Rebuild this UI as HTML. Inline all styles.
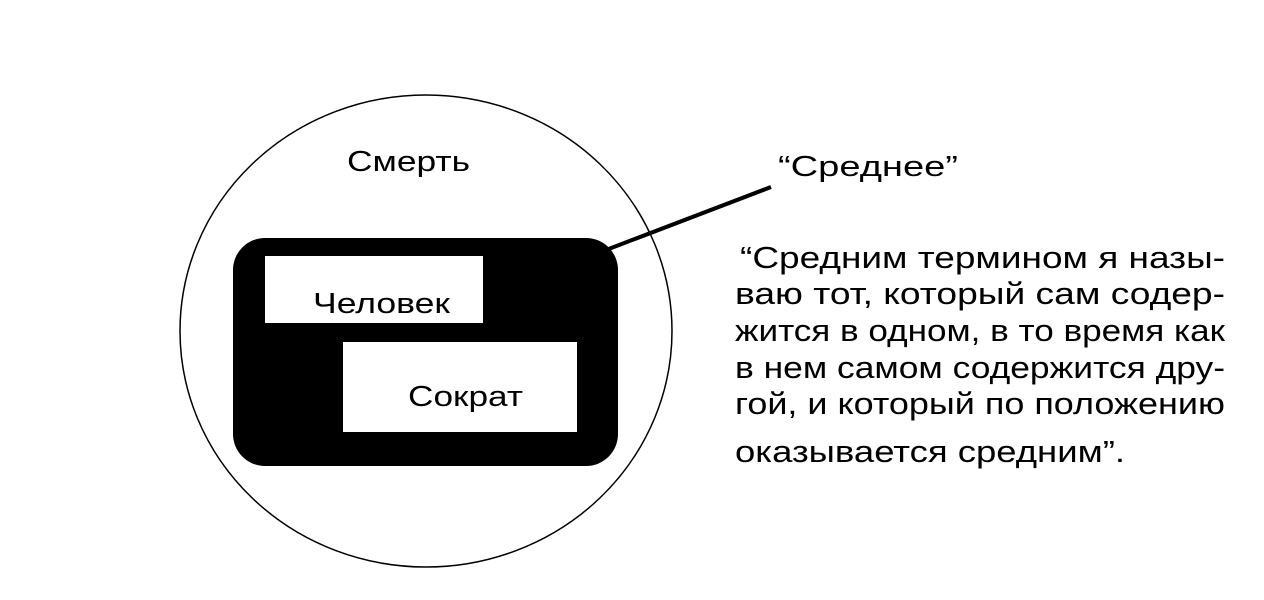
<!DOCTYPE html>
<html><head><meta charset="utf-8"><style>
html,body{margin:0;padding:0;background:#fff;}
svg{display:block;}
text{font-family:"Liberation Sans",Arial,sans-serif;fill:#000;}
</style></head><body>
<svg width="1264" height="600" viewBox="0 0 1264 600" xmlns="http://www.w3.org/2000/svg">
<ellipse cx="426" cy="331" rx="246" ry="236" fill="none" stroke="#000" stroke-width="1.5"/>
<line x1="606" y1="250" x2="771" y2="187" stroke="#000" stroke-width="4"/>
<rect x="233" y="238" width="385" height="228" rx="32" ry="32" fill="#000"/>
<rect x="265" y="256" width="218" height="67" fill="#fff"/>
<rect x="343" y="342" width="234" height="90" fill="#fff"/>
<text x="347" y="171" font-size="29" textLength="123" lengthAdjust="spacingAndGlyphs">Смерть</text>
<text x="313" y="313" font-size="29" textLength="137" lengthAdjust="spacingAndGlyphs">Человек</text>
<text x="408" y="406" font-size="29" textLength="115" lengthAdjust="spacingAndGlyphs">Сократ</text>
<text x="778" y="176" font-size="29" textLength="180" lengthAdjust="spacingAndGlyphs">“Среднее”</text>
<g font-size="31">
<text x="740" y="268" textLength="485" lengthAdjust="spacingAndGlyphs">“Средним термином я назы-</text>
<text x="735" y="304" textLength="490" lengthAdjust="spacingAndGlyphs">ваю тот, который сам содер-</text>
<text x="735" y="341" textLength="490" lengthAdjust="spacingAndGlyphs">жится в одном, в то время как</text>
<text x="735" y="378" textLength="490" lengthAdjust="spacingAndGlyphs">в нем самом содержится дру-</text>
<text x="735" y="414" textLength="490" lengthAdjust="spacingAndGlyphs">гой, и который по положению</text>
<text x="735" y="462" textLength="390" lengthAdjust="spacingAndGlyphs">оказывается средним”.</text>
</g>
</svg>
</body></html>
